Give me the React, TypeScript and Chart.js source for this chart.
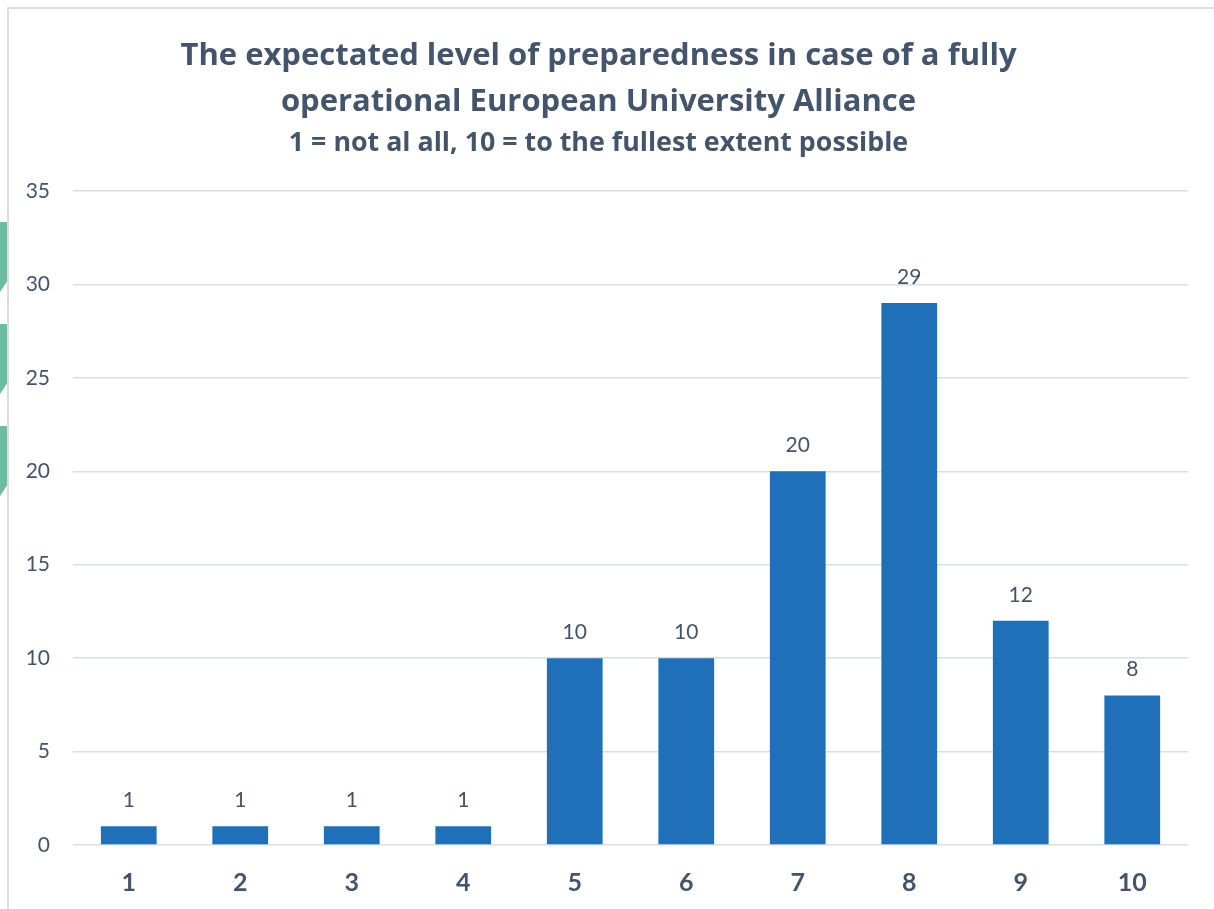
import React, { useEffect, useRef } from "react";
import { Chart, registerables } from "chart.js";

Chart.register(...registerables);

const categories = ["1", "2", "3", "4", "5", "6", "7", "8", "9", "10"];
const responses = [1, 1, 1, 1, 10, 10, 20, 29, 12, 8];
const titleLines = [
  "The expectated level of preparedness in case of a fully",
  "operational European University Alliance",
];
const subtitleText = "1 = not al all, 10 = to the fullest extent possible";

const TEXT = "#44546A";
const BAR = "#1F70B8";
const GRID = "#D9DEE5";
const NUM_FONT = "Lato, 'Open Sans', sans-serif";
const HEAD_FONT = "'Open Sans', Lato, sans-serif";

// Writes each bar's value just above it.
const valueLabels = {
  id: "valueLabels",
  afterDatasetsDraw(chart: any) {
    const { ctx } = chart;
    const meta = chart.getDatasetMeta(0);
    ctx.save();
    ctx.fillStyle = TEXT;
    ctx.font = `21px ${NUM_FONT}`;
    ctx.textAlign = "center";
    ctx.textBaseline = "middle";
    meta.data.forEach((bar: any, i: number) => {
      ctx.fillText(String(responses[i]), bar.x, bar.y - 26);
    });
    ctx.restore();
  },
};

export default function App() {
  const canvasRef = useRef<HTMLCanvasElement | null>(null);

  useEffect(() => {
    document.body.style.margin = "0";
    const chart = new Chart(canvasRef.current!, {
      type: "bar",
      data: {
        labels: categories,
        datasets: [
          {
            data: responses,
            backgroundColor: BAR,
            barPercentage: 0.5,
            categoryPercentage: 1,
          },
        ],
      },
      options: {
        animation: false,
        responsive: false,
        layout: { padding: { left: 0, right: 26, top: 24, bottom: 0 } },
        plugins: {
          legend: { display: false },
          tooltip: { enabled: false },
          title: {
            display: true,
            text: titleLines,
            color: TEXT,
            font: { family: HEAD_FONT, size: 31, weight: "bold", lineHeight: "46px" },
            padding: { top: 0, bottom: 0 },
          },
          subtitle: {
            display: true,
            text: subtitleText,
            color: TEXT,
            font: { family: HEAD_FONT, size: 26.8, weight: "bold", lineHeight: "30px" },
            padding: { top: 3, bottom: 33 },
          },
        },
        scales: {
          x: {
            grid: { display: false },
            border: { display: false },
            ticks: {
              color: TEXT,
              font: { family: NUM_FONT, size: 25, weight: "bold" },
              padding: 15,
            },
            afterFit(scale: any) {
              scale.height = 64;
            },
          },
          y: {
            min: 0,
            max: 35,
            ticks: {
              stepSize: 5,
              color: TEXT,
              font: { family: NUM_FONT, size: 21 },
              padding: 23,
            },
            grid: { color: GRID, lineWidth: 1.5, drawTicks: false },
            border: { display: false },
            afterFit(scale: any) {
              scale.width = 64;
            },
          },
        },
      },
      plugins: [valueLabels],
    });
    return () => chart.destroy();
  }, []);

  const chevron = (top: number) => (
    <div
      style={{
        position: "absolute",
        left: 0,
        top,
        width: 7,
        height: 70,
        background: "#6DBCA0",
        clipPath: "polygon(0 0, 100% 0, 100% 85%, 0 100%)",
      }}
    />
  );

  return (
    <div
      style={{
        position: "absolute",
        left: 0,
        top: 0,
        width: 1214,
        height: 909,
        background: "#FFFFFF",
        overflow: "hidden",
      }}
    >
      {chevron(222)}
      {chevron(324)}
      {chevron(426)}
      <div
        style={{
          position: "absolute",
          left: 7,
          top: 7,
          width: 1207,
          height: 902,
          borderLeft: `2px solid ${GRID}`,
          borderTop: `2px solid ${GRID}`,
          boxSizing: "border-box",
        }}
      >
        <canvas ref={canvasRef} width={1205} height={900} style={{ display: "block" }} />
      </div>
    </div>
  );
}
